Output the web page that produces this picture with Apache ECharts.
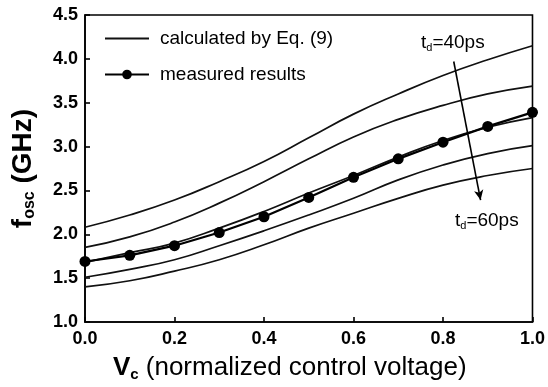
<!DOCTYPE html>
<html><head><meta charset="utf-8">
<script src="https://cdn.jsdelivr.net/npm/echarts@6/dist/echarts.min.js"></script>
<style>html,body{margin:0;padding:0;background:#fff}#c{width:548px;height:387px}</style>
</head><body><div id="c"></div>
<script>
var vc = [0.0, 0.1, 0.2, 0.3, 0.4, 0.5, 0.6, 0.7, 0.8, 0.9, 1.0];
var calc40 = [2.08, 2.22, 2.39, 2.60, 2.83, 3.10, 3.37, 3.60, 3.81, 3.99, 4.15];
var calc45 = [1.85, 1.97, 2.14, 2.355, 2.60, 2.86, 3.11, 3.31, 3.47, 3.60, 3.69];
var calc50 = [1.68, 1.79, 1.90, 2.07, 2.26, 2.47, 2.67, 2.88, 3.07, 3.22, 3.33];
var calc55 = [1.51, 1.60, 1.71, 1.87, 2.04, 2.22, 2.41, 2.62, 2.79, 2.92, 3.01];
var calc60 = [1.40, 1.47, 1.58, 1.71, 1.88, 2.07, 2.24, 2.41, 2.56, 2.67, 2.75];
var measuredX = [0.0, 0.1, 0.2, 0.3, 0.4, 0.5, 0.6, 0.7, 0.8, 0.9, 1.0];
var measured = [1.69, 1.76, 1.87, 2.02, 2.20, 2.42, 2.65, 2.86, 3.05, 3.23, 3.39];
var calcName = 'calculated by Eq. (9)';
var measName = 'measured results';
var arrowStart = [0.824, 3.97];
var arrowEnd = [0.884, 2.39];
var label40Pos = [0.822, 4.18];
var label60Pos = [0.898, 2.15];

function pairs(xs, ys){ return xs.map(function(x,i){return [x, ys[i]];}); }
var font = 'Liberation Sans, Arial, sans-serif';
var curves = [calc40, calc45, calc50, calc55, calc60];
var series = curves.map(function(c){
  return {name: calcName, type:'line', smooth:0.5, symbol:'none', data: pairs(vc, c),
    lineStyle:{color:'#111', width:1.7}, itemStyle:{color:'#111'}, z:2, silent:true};
});
series.push({name: measName, type:'line', data: pairs(measuredX, measured), symbol:'circle', symbolSize:11,
  lineStyle:{color:'#000', width:2.2}, itemStyle:{color:'#000'}, z:3,
  markLine:{silent:true, symbol:['none','arrow'], symbolSize:[7,10],
    lineStyle:{color:'#000', width:1.6, type:'solid'}, label:{show:false},
    data:[[{coord: arrowStart}, {coord: arrowEnd}]]},
  markPoint:{silent:true, symbol:'circle', symbolSize:0,
    label:{show:true, color:'#000', fontFamily:font,
      rich:{m:{fontSize:19, fontFamily:font, color:'#000'}, s:{fontSize:11, fontFamily:font, color:'#000', verticalAlign:'bottom', padding:[10,0,0,0]}}},
    data:[
      {coord: label40Pos, label:{formatter:'{m|t}{s|d}{m|=40ps}'}},
      {coord: label60Pos, label:{formatter:'{m|t}{s|d}{m|=60ps}'}}
    ]}
});
var chart = echarts.init(document.getElementById('c'), null, {renderer:'canvas'});
chart.setOption({
  animation:false,
  backgroundColor:'#fff',
  grid:{left:85, right:13, top:15, bottom:62, show:true, borderColor:'#000', borderWidth:1.6},
  legend:{orient:'vertical', left:104, top:29, padding:0, itemWidth:44, itemHeight:12, itemGap:17,
    textStyle:{fontFamily:font, fontSize:19, color:'#000', padding:[0,0,0,6]},
    data:[{name:calcName, itemStyle:{opacity:0}}, {name:measName}]},
  xAxis:{type:'value', min:0, max:1, interval:0.2,
    axisLine:{lineStyle:{color:'#000', width:1.6}}, axisTick:{inside:true, length:5, lineStyle:{color:'#000', width:1.6}},
    splitLine:{show:false},
    axisLabel:{fontFamily:font, fontWeight:'bold', fontSize:18, color:'#000', margin:8, formatter:function(v){return v.toFixed(1);}},
    name:'{b|V}{s|c}{n| (normalized control voltage)}', nameLocation:'middle', nameGap:31,
    nameTextStyle:{padding:[0,38,0,0], rich:{b:{fontFamily:font, fontWeight:'bold', fontSize:26, color:'#000'},
      s:{fontFamily:font, fontWeight:'bold', fontSize:15, color:'#000', verticalAlign:'bottom', padding:[14,0,0,0]},
      n:{fontFamily:font, fontSize:26, color:'#000'}}}},
  yAxis:{type:'value', min:1.0, max:4.5, interval:0.5,
    axisLine:{lineStyle:{color:'#000', width:1.6}}, axisTick:{inside:true, length:5, lineStyle:{color:'#000', width:1.6}},
    splitLine:{show:false},
    axisLabel:{fontFamily:font, fontWeight:'bold', fontSize:18, color:'#000', margin:7, formatter:function(v){return v.toFixed(1);}},
    name:'{b|f}{s|osc}{b| (GHz)}', nameLocation:'middle', nameGap:47, nameRotate:90,
    nameTextStyle:{rich:{b:{fontFamily:font, fontWeight:'bold', fontSize:28, color:'#000'},
      s:{fontFamily:font, fontWeight:'bold', fontSize:16, color:'#000', verticalAlign:'bottom', padding:[14,0,0,0]}}}},
  series: series
});
</script></body></html>
